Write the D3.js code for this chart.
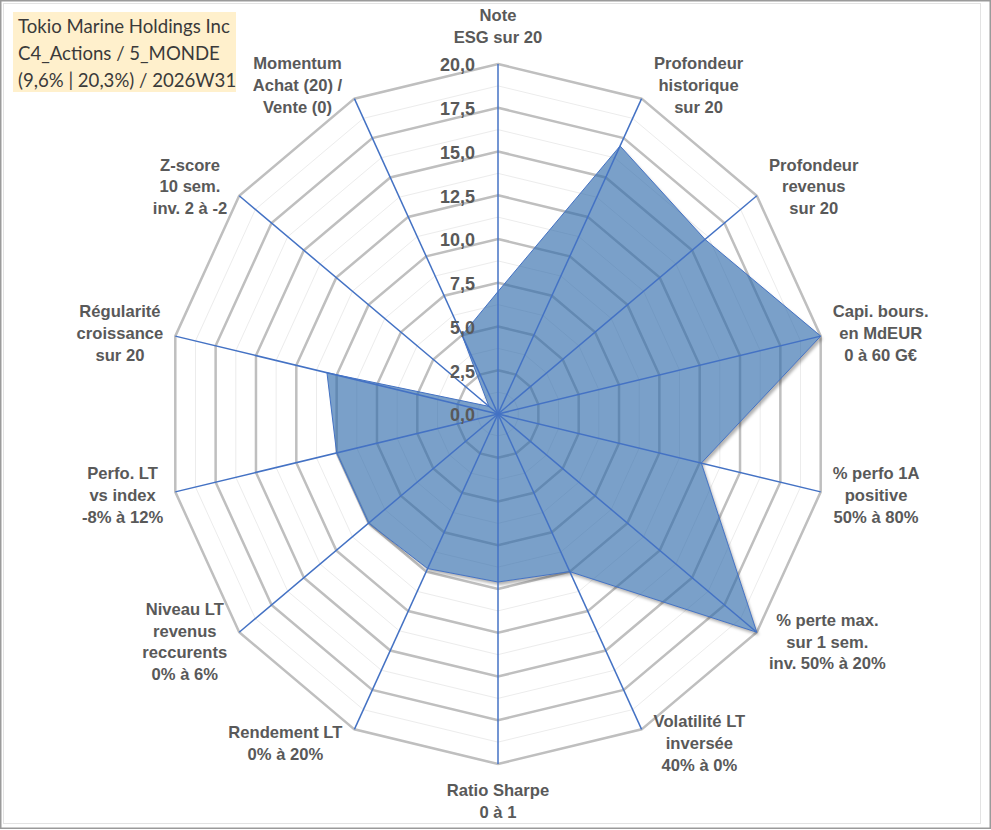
<!DOCTYPE html>
<html>
<head>
<meta charset="utf-8">
<script src="https://cdn.jsdelivr.net/npm/d3@7"></script>
<style>
  html, body { margin: 0; padding: 0; background: #fff; }
  svg { display: block; }
</style>
</head>
<body>
<div id="chart"></div>
<script>
// axis labels, one entry per spoke (clockwise from the top), split in lines
const axisLabels = [
  ["Note", "ESG sur 20"],
  ["Profondeur", "historique", "sur 20"],
  ["Profondeur", "revenus", "sur 20"],
  ["Capi. bours.", "en MdEUR", "0 à 60 G€"],
  ["% perfo 1A", "positive", "50% à 80%"],
  ["% perte max.", "sur 1 sem.", "inv. 50% à 20%"],
  ["Volatilité LT", "inversée", "40% à 0%"],
  ["Ratio Sharpe", "0 à 1"],
  ["Rendement LT", "0% à 20%"],
  ["Niveau LT", "revenus", "reccurents", "0% à 6%"],
  ["Perfo. LT", "vs index", "-8% à 12%"],
  ["Régularité", "croissance", "sur 20"],
  ["Z-score", "10 sem.", "inv. 2 à -2"],
  ["Momentum", "Achat (20) /", "Vente (0)"]
];

// score of the stock on each spoke (0..20)
const scores = [7.0, 17.0, 16.0, 20.0, 12.6, 20.0, 10.0, 9.6, 9.8, 10.0, 10.0, 10.6, 0.7, 5.0];

const tickValues = [0, 2.5, 5, 7.5, 10, 12.5, 15, 17.5, 20];
const minorTicks = [1.25, 3.75, 6.25, 8.75, 11.25, 13.75, 16.25, 18.75];

const titleLines = [
  "Tokio Marine Holdings Inc",
  "C4_Actions / 5_MONDE",
  "(9,6% | 20,3%) / 2026W31"
];

const W = 991, H = 830;
const cx = 498, cy = 414, rx = 331, ry = 350;
const labelColor = "#595959";

const fr = d3.formatLocale({decimal: ",", thousands: " ", grouping: [3], currency: ["", "€"]});
const fmt = fr.format(".1f");

const n = axisLabels.length;
const angle = d3.scaleLinear().domain([0, n]).range([0, 2 * Math.PI]);
const r = d3.scaleLinear().domain([0, 20]).range([0, 1]);

function pt(i, v) {
  const a = angle(i);
  return [cx + r(v) * rx * Math.sin(a), cy - r(v) * ry * Math.cos(a)];
}

const svg = d3.select("#chart").append("svg")
  .attr("width", W)
  .attr("height", H);

// outer frame
svg.append("rect")
  .attr("x", 0.75).attr("y", 0.75)
  .attr("width", W - 1.5).attr("height", H - 2.5)
  .attr("fill", "#fff")
  .attr("stroke", "#9a9a9a")
  .attr("stroke-width", 1.5);
svg.append("rect")
  .attr("x", 3.5).attr("y", 3.5)
  .attr("width", 977).attr("height", 820)
  .attr("fill", "none")
  .attr("stroke", "#e3e3e3")
  .attr("stroke-width", 1);

const ringLine = d3.line().curve(d3.curveLinearClosed);

function ring(v) {
  return ringLine(d3.range(n).map(i => pt(i, v)));
}

const seriesPath = ringLine(scores.map((v, i) => pt(i, v)));

// shadow only outside the polygon, so the see-through fill stays light
const defs = svg.append("defs");
defs.append("filter").attr("id", "blur")
  .append("feGaussianBlur").attr("stdDeviation", 1.4);
const mask = defs.append("mask").attr("id", "outside")
  .attr("maskUnits", "userSpaceOnUse")
  .attr("x", 0).attr("y", 0).attr("width", W).attr("height", H);
mask.append("rect").attr("width", W).attr("height", H).attr("fill", "#fff");
mask.append("path").attr("d", seriesPath).attr("fill", "#000");

// minor rings
svg.append("g").selectAll("path")
  .data(minorTicks)
  .join("path")
  .attr("d", d => ring(d))
  .attr("fill", "none")
  .attr("stroke", "#ececec")
  .attr("stroke-width", 1);

// major rings
svg.append("g").selectAll("path")
  .data(tickValues.filter(d => d > 0))
  .join("path")
  .attr("d", d => ring(d))
  .attr("fill", "none")
  .attr("stroke", "#bfbfbf")
  .attr("stroke-width", 2.5);

// series shadow + polygon
svg.append("g").attr("mask", "url(#outside)")
  .append("path")
  .attr("d", seriesPath)
  .attr("transform", "translate(2,3)")
  .attr("fill", "#000")
  .attr("fill-opacity", 0.3)
  .attr("filter", "url(#blur)");

svg.append("path")
  .attr("d", seriesPath)
  .attr("fill", "#2f6aaa")
  .attr("fill-opacity", 0.64)
  .attr("stroke", "#4472c4")
  .attr("stroke-width", 1);

// spokes
svg.append("g").selectAll("line")
  .data(d3.range(n))
  .join("line")
  .attr("x1", cx).attr("y1", cy)
  .attr("x2", i => pt(i, 20)[0])
  .attr("y2", i => pt(i, 20)[1])
  .attr("stroke", "#4472c4")
  .attr("stroke-width", 1.5);

// tick labels along the top spoke
svg.append("g").selectAll("text")
  .data(tickValues)
  .join("text")
  .attr("x", cx - 23)
  .attr("y", d => pt(0, d)[1] + 1)
  .attr("dy", "0.36em")
  .attr("text-anchor", "end")
  .attr("font-family", "'Liberation Sans', Arial, sans-serif")
  .attr("font-weight", "bold")
  .attr("font-size", 18)
  .attr("fill", labelColor)
  .text(d => fmt(d));

// axis labels
const lineH = 21.8;
const lab = svg.append("g").selectAll("text")
  .data(axisLabels)
  .join("text")
  .attr("text-anchor", "middle")
  .attr("font-family", "'Liberation Sans', Arial, sans-serif")
  .attr("font-weight", "bold")
  .attr("font-size", 16.6)
  .attr("fill", labelColor);

lab.each(function(lines, i) {
  const t = d3.select(this);
  lines.forEach((s, k) => {
    t.append("tspan").attr("x", 0).attr("y", k * lineH).text(s);
  });
  const w = this.getBBox().width;
  const h = lines.length * lineH;
  const a = angle(i), s = Math.sin(a), c = Math.cos(a);
  const [ex, ey] = pt(i, 20);
  let lx, ly;
  if (Math.abs(s) < 0.1) {
    lx = ex;
    ly = c > 0 ? ey - 16 - h / 2 : ey + 15 + h / 2;
  } else {
    lx = ex + Math.sign(s) * (12 + w / 2);
    ly = ey - c * 15;
  }
  const top = ly - h / 2 + lineH / 2;
  t.selectAll("tspan")
    .attr("x", lx)
    .attr("y", (d, k) => top + k * lineH)
    .attr("dy", "0.36em");
});

// title box
const tb = svg.append("g");
tb.append("rect")
  .attr("x", 13).attr("y", 12)
  .attr("width", 223).attr("height", 80)
  .attr("fill", "#fff0cc");
tb.selectAll("text")
  .data(titleLines)
  .join("text")
  .attr("x", 18)
  .attr("y", (d, k) => 26 + k * 27)
  .attr("dy", "0.35em")
  .attr("font-family", "Lato, 'Open Sans', sans-serif")
  .attr("font-size", 18.6)
  .attr("fill", "#3a3a3a")
  .text(d => d);
</script>
</body>
</html>
